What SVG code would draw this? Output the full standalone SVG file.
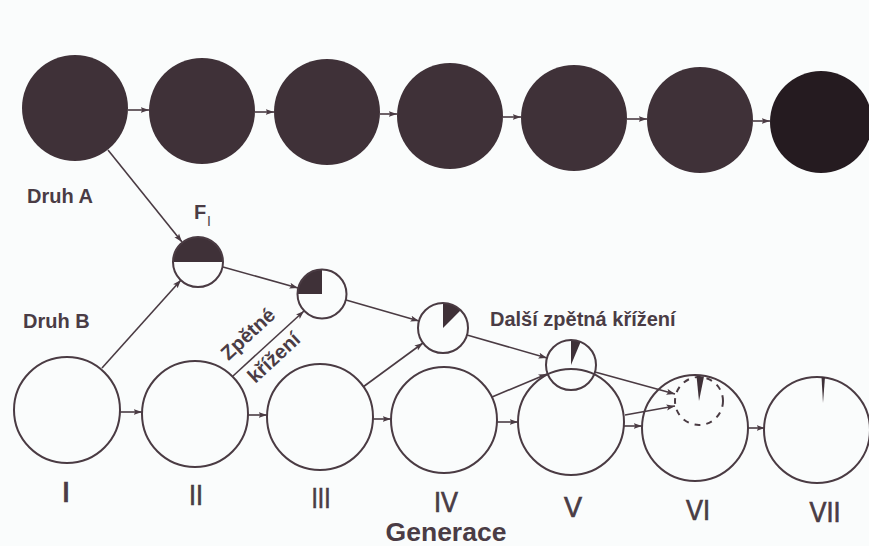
<svg xmlns="http://www.w3.org/2000/svg" width="869" height="546" viewBox="0 0 869 546">
  <defs>
    <marker id="arr" markerUnits="userSpaceOnUse" markerWidth="9" markerHeight="7" refX="8.5" refY="3.5" orient="auto">
      <path d="M0,0.5 L8.5,3.5 L0,6.5 L1.8,3.5 Z" fill="#4a3b43"/>
    </marker>
  </defs>
  <style>
    .bg { fill: #fafcfc; }
    .dark { fill: #3f3138; }
    .darker { fill: #251b20; }
    .ring { fill: none; stroke: #4a3b43; stroke-width: 2; }
    .share { fill: #3f3138; }
    .dash { fill: none; stroke: #4a3b43; stroke-width: 2; stroke-dasharray: 6 6; }
    .link { fill: none; stroke: #4a3b43; stroke-width: 1.6; marker-end: url(#arr); }
    .lbl { font-family: "Liberation Sans", Arial, sans-serif; font-weight: bold; font-size: 20px; fill: #4a3c45; }
    .big { font-size: 26.5px; }
    .sub { font-size: 14px; font-weight: normal; }
    .num { font-family: "Liberation Sans", Arial, sans-serif; font-size: 29px; fill: #4a3c45; stroke: #4a3c45; stroke-width: 0.7; text-anchor: middle; }
  </style>

  <rect class="bg" x="0" y="0" width="869" height="546"/>

  <!-- connectors -->
  <g id="connectors">
    <!-- species A line -->
    <line class="link" x1="128" y1="110" x2="149" y2="110"/>
    <line class="link" x1="255" y1="112" x2="274" y2="112"/>
    <line class="link" x1="380" y1="114" x2="397" y2="114"/>
    <line class="link" x1="503" y1="117" x2="521" y2="117"/>
    <line class="link" x1="627" y1="119" x2="647" y2="119"/>
    <line class="link" x1="753" y1="121" x2="770" y2="121"/>
    <!-- species B line -->
    <line class="link" x1="120" y1="412" x2="142" y2="412"/>
    <line class="link" x1="248" y1="415" x2="267" y2="415"/>
    <line class="link" x1="373" y1="419" x2="391" y2="419"/>
    <line class="link" x1="497" y1="422" x2="518" y2="422"/>
    <line class="link" x1="624" y1="426" x2="642" y2="426"/>
    <line class="link" x1="748" y1="428" x2="765" y2="428"/>
    <!-- hybrid and back-crosses -->
    <line class="link" x1="108" y1="150" x2="182" y2="242"/>
    <line class="link" x1="102" y1="368" x2="181" y2="280"/>
    <line class="link" x1="223" y1="267" x2="298" y2="288"/>
    <line class="link" x1="233" y1="376" x2="304" y2="311"/>
    <line class="link" x1="346" y1="300" x2="419" y2="321"/>
    <line class="link" x1="363" y1="387" x2="423" y2="343"/>
    <line class="link" x1="467" y1="335" x2="547" y2="358"/>
    <line class="link" x1="492" y1="397" x2="547" y2="374"/>
    <line class="link" x1="595" y1="372" x2="675" y2="394"/>
    <line class="link" x1="625" y1="415" x2="675" y2="406"/>
  </g>

  <!-- species A generations -->
  <g id="a1"><circle class="dark" cx="75" cy="108" r="53"/></g>
  <g id="a2"><circle class="dark" cx="202" cy="111" r="53"/></g>
  <g id="a3"><circle class="dark" cx="327" cy="112" r="53"/></g>
  <g id="a4"><circle class="dark" cx="450" cy="116" r="53"/></g>
  <g id="a5"><circle class="dark" cx="574" cy="118" r="53"/></g>
  <g id="a6"><circle class="dark" cx="700" cy="120" r="53"/></g>
  <g id="a7"><circle class="darker" cx="821" cy="122" r="51"/></g>

  <!-- species B generations -->
  <g id="g1"><circle class="ring" cx="67" cy="410" r="53"/></g>
  <g id="g2"><circle class="ring" cx="195" cy="414" r="53"/></g>
  <g id="g3"><circle class="ring" cx="320" cy="417" r="53"/></g>
  <g id="g4"><circle class="ring" cx="444" cy="420" r="53"/></g>
  <g id="g5"><circle class="ring" cx="571" cy="422" r="53"/></g>
  <g id="g6">
    <circle class="ring" cx="695" cy="428" r="53"/>
    <circle class="dash" cx="699" cy="401" r="24"/>
    <path class="share" d="M699,401 L696.5,376 L704,376.5 Z"/>
  </g>
  <g id="g7">
    <circle class="ring" cx="817" cy="430" r="53"/>
    <path class="share" d="M823,403 L821.5,377 L825,377 Z"/>
  </g>

  <!-- hybrid F1 and back-cross offspring -->
  <g id="f1">
    <path class="share" d="M173,262 A25,25 0 0 1 223,262 Z"/>
    <circle class="ring" cx="198" cy="262" r="25"/>
  </g>
  <g id="b1">
    <path class="share" d="M322,294 L297.5,294 A24.5,24.5 0 0 1 322,269.5 Z"/>
    <circle class="ring" cx="322" cy="294" r="24.5"/>
  </g>
  <g id="b2">
    <path class="share" d="M443,328 L443,303 A25,25 0 0 1 460.7,310.3 Z"/>
    <circle class="ring" cx="443" cy="328" r="25"/>
  </g>
  <g id="b3">
    <path class="share" d="M571,365 L571,340 A25,25 0 0 1 580.6,341.9 Z"/>
    <circle class="ring" cx="571" cy="365" r="25"/>
  </g>

  <!-- labels -->
  <g id="labels">
    <text class="lbl" x="27" y="203">Druh A</text>
    <text class="lbl" x="23" y="328">Druh B</text>
    <text class="lbl" x="194" y="219">F</text>
    <text class="lbl sub" x="207" y="226">I</text>
    <g transform="translate(235,377) rotate(-42.9)">
      <text class="lbl" x="6" y="-16">Zpětné</text>
      <text class="lbl" x="10" y="19">křížení</text>
    </g>
    <text class="lbl" x="490" y="326">Další zpětná křížení</text>
    <text class="num" x="66" y="502" textLength="9" lengthAdjust="spacingAndGlyphs">I</text>
    <text class="num" x="196" y="505" textLength="14" lengthAdjust="spacingAndGlyphs">II</text>
    <text class="num" x="321" y="508" textLength="19" lengthAdjust="spacingAndGlyphs">III</text>
    <text class="num" x="446" y="512" textLength="24" lengthAdjust="spacingAndGlyphs">IV</text>
    <text class="num" x="573" y="517" textLength="18" lengthAdjust="spacingAndGlyphs">V</text>
    <text class="num" x="698" y="520" textLength="24" lengthAdjust="spacingAndGlyphs">VI</text>
    <text class="num" x="825" y="522" textLength="31" lengthAdjust="spacingAndGlyphs">VII</text>
    <text class="lbl big" x="446" y="541" text-anchor="middle">Generace</text>
  </g>
</svg>
